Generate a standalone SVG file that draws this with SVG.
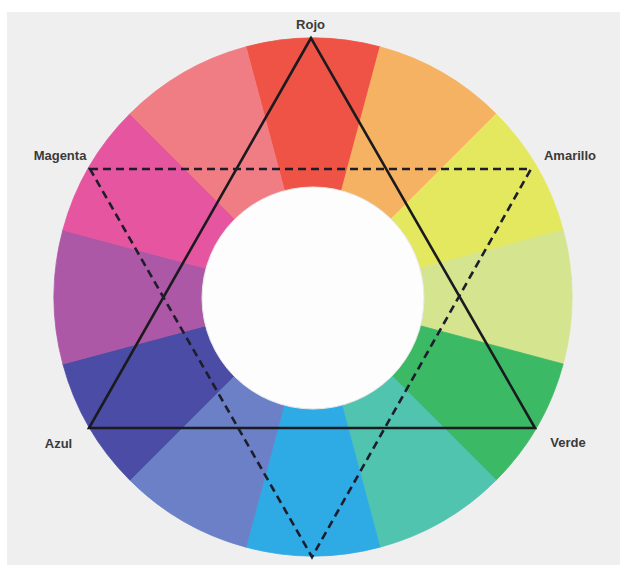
<svg xmlns="http://www.w3.org/2000/svg" width="620" height="565" viewBox="0 0 620 565">
<style>
.lbl{font-family:"Liberation Sans","Open Sans",Arial,sans-serif;font-weight:bold;font-size:13px;fill:#3a3a3a;text-anchor:middle}
.s0{fill:#ee5345;stroke:#ee5345}
.s1{fill:#f5b262;stroke:#f5b262}
.s2{fill:#e4e85e;stroke:#e4e85e}
.s3{fill:#d5e48e;stroke:#d5e48e}
.s4{fill:#3cb965;stroke:#3cb965}
.s5{fill:#50c4ae;stroke:#50c4ae}
.s6{fill:#2eabe4;stroke:#2eabe4}
.s7{fill:#6b80c6;stroke:#6b80c6}
.s8{fill:#4b4ca6;stroke:#4b4ca6}
.s9{fill:#ad58a6;stroke:#ad58a6}
.s10{fill:#e6559f;stroke:#e6559f}
.s11{fill:#f17d84;stroke:#f17d84}
.seg path{stroke-width:0.8;stroke-linejoin:round}
.solid{fill:none;stroke:#1b1b1f;stroke-width:2.6;stroke-linejoin:miter}
.dash{fill:none;stroke:#1d1d2c;stroke-width:2.6;stroke-dasharray:8 5}
</style>
<rect x="0" y="0" width="620" height="565" fill="#ffffff"/>
<rect x="7" y="12" width="613" height="553" fill="#efefef"/>
<g id="wheel" class="seg">
<path class="s0" d="M313,297 L245.97,46.83 A259,259 0 0 1 380.03,46.83 Z"/>
<path class="s1" d="M313,297 L380.03,46.83 A259,259 0 0 1 496.14,113.86 Z"/>
<path class="s2" d="M313,297 L496.14,113.86 A259,259 0 0 1 563.17,229.97 Z"/>
<path class="s3" d="M313,297 L563.17,229.97 A259,259 0 0 1 563.17,364.03 Z"/>
<path class="s4" d="M313,297 L563.17,364.03 A259,259 0 0 1 496.14,480.14 Z"/>
<path class="s5" d="M313,297 L496.14,480.14 A259,259 0 0 1 380.03,547.17 Z"/>
<path class="s6" d="M313,297 L380.03,547.17 A259,259 0 0 1 245.97,547.17 Z"/>
<path class="s7" d="M313,297 L245.97,547.17 A259,259 0 0 1 129.86,480.14 Z"/>
<path class="s8" d="M313,297 L129.86,480.14 A259,259 0 0 1 62.83,364.03 Z"/>
<path class="s9" d="M313,297 L62.83,364.03 A259,259 0 0 1 62.83,229.97 Z"/>
<path class="s10" d="M313,297 L62.83,229.97 A259,259 0 0 1 129.86,113.86 Z"/>
<path class="s11" d="M313,297 L129.86,113.86 A259,259 0 0 1 245.97,46.83 Z"/>
<circle cx="313" cy="298" r="111" fill="#fdfdfd" stroke="#e8e8e8" stroke-width="1"/>
</g>
<g id="connectors">
<path class="solid" d="M311,38 L89,428 L535,428 Z"/>
<path class="dash" d="M90,169 L531,169 L312,557 Z"/>
</g>
<g id="rojo"><text class="lbl" x="310.5" y="28.5">Rojo</text></g>
<g id="amarillo"><text class="lbl" x="570" y="159.5">Amarillo</text></g>
<g id="verde"><text class="lbl" x="568" y="446.5">Verde</text></g>
<g id="azul"><text class="lbl" x="58.5" y="448">Azul</text></g>
<g id="magenta"><text class="lbl" x="60" y="159.5">Magenta</text></g>
</svg>
